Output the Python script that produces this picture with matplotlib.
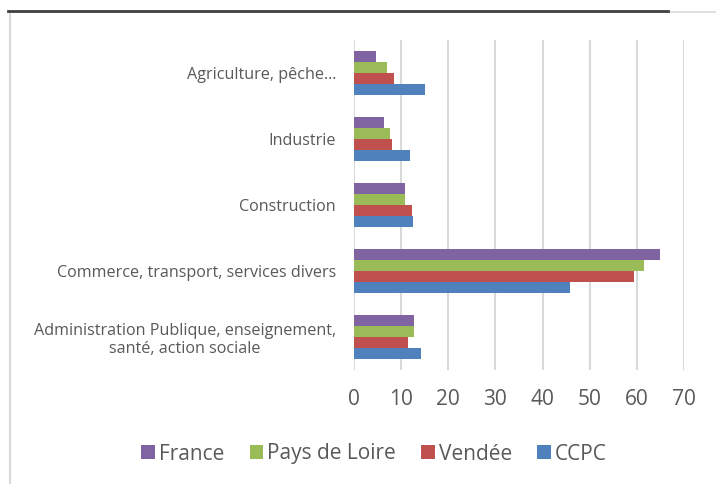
import matplotlib.pyplot as plt
import numpy as np
from matplotlib.lines import Line2D

categories = ["Agriculture, pêche…", "Industrie", "Construction",
              "Commerce, transport, services divers",
              "Administration Publique, enseignement,\nsanté, action sociale"]
series = ["France", "Pays de Loire", "Vendée", "CCPC"]
france = [4.7, 6.4, 10.8, 65.0, 12.8]
pays_de_loire = [7.0, 7.6, 10.8, 61.6, 12.7]
vendee = [8.5, 8.1, 12.4, 59.4, 11.5]
ccpc = [15.1, 11.9, 12.6, 45.9, 14.3]
colors = ["#8064A2", "#9BBB59", "#C0504D", "#4F81BD"]

plt.rcParams['font.family'] = ['Open Sans', 'DejaVu Sans']

fig = plt.figure(figsize=(7.16, 4.84), dpi=100)
ax = fig.add_axes([354/716, 1-370/484, 330/716, 330/484])

y = np.arange(len(categories))
h = 0.167
values = [france, pays_de_loire, vendee, ccpc]
for i, (name, vals) in enumerate(zip(series, values)):
    ax.barh(y + (i - 1.5) * h, vals, height=h, color=colors[i], label=name, zorder=3)

ax.set_ylim(4.5, -0.5)
ax.set_xlim(0, 70)
ax.set_xticks(range(0, 71, 10))
ax.set_yticks(y)
ax.set_yticklabels(categories, fontsize=11.6, color="#595959",
                   multialignment="center", linespacing=1.2)
ax.tick_params(axis='x', labelsize=15, colors="#595959", length=0, pad=14)
ax.tick_params(axis='y', length=0, pad=13)
ax.grid(axis='x', color="#D9D9D9", linewidth=1.5, zorder=0)
for s in ax.spines.values():
    s.set_visible(False)

handles, labels = ax.get_legend_handles_labels()
fig.legend(handles, labels, loc='center', bbox_to_anchor=(374/716, 1-454/484),
           ncol=4, frameon=False, fontsize=15, handlelength=0.65, handleheight=0.65,
           handletextpad=0.2, columnspacing=1.2, labelcolor="#595959")

# chart frame and header rule
fig.add_artist(Line2D([10/716, 1], [1-12/484, 1-12/484], color="#D9D9D9", linewidth=1.2))
fig.add_artist(Line2D([10/716, 10/716], [0, 1-12/484], color="#D9D9D9", linewidth=1.5))
fig.add_artist(Line2D([8/716, 668/716], [1-11/484, 1-11/484], color="#404040", linewidth=2))

fig.savefig("out.png", dpi=100)
